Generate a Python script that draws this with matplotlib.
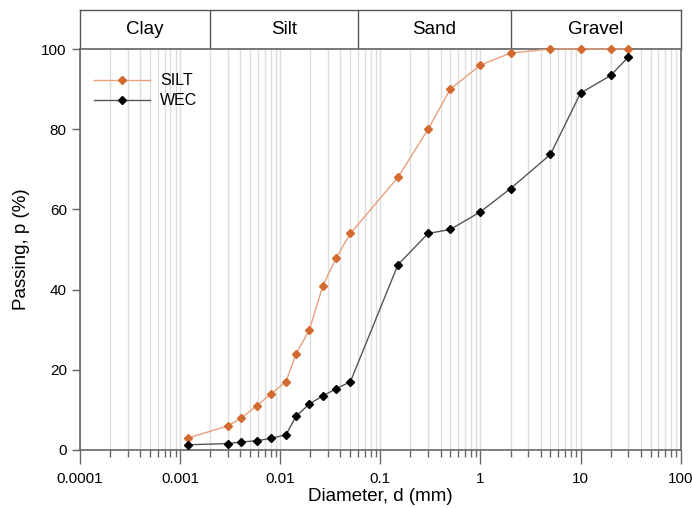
import numpy as np
from matplotlib import pyplot as plt
from matplotlib.ticker import LogLocator, NullFormatter, FixedLocator

plt.rcParams['font.family'] = ['Liberation Sans', 'DejaVu Sans']

diametri = [0.0012, 0.003, 0.0041, 0.0058, 0.0081, 0.0114, 0.0144, 0.0196, 0.0267,
            0.0364, 0.0502, 0.15, 0.3, 0.5, 1, 2, 5, 10, 20, 30]
silt = [3, 6, 8, 11, 14, 17, 24, 30, 41, 48, 54, 68, 80, 90, 96, 99, 100, 100, 100, 100]
wec = [1.3, 1.6, 2.0, 2.3, 2.9, 3.8, 8.4, 11.5, 13.5, 15.3, 17, 46.2, 54, 55, 59.4,
       65.2, 73.7, 89, 93.4, 98]

classi = ["Clay", "Silt", "Sand", "Gravel"]
limiti_classi = [0.0001, 0.002, 0.06, 2, 100]

fig = plt.figure(figsize=(6.92, 5.08), dpi=100)
ax = fig.add_axes([0.1156, 0.1142, 0.868, 0.7893])
ax_h = fig.add_axes([0.1156, 0.9035, 0.868, 0.0768])
ax.set_zorder(2)

colore_silt = "#d2692e"
ax.plot(diametri, silt, color="#e8a07a", lw=1.0, marker="D", ms=4.5,
        mfc=colore_silt, mec=colore_silt, label="SILT", zorder=3, clip_on=False)
ax.plot(diametri, wec, color="#555555", lw=1.0, marker="D", ms=4.5,
        mfc="black", mec="black", label="WEC", zorder=3, clip_on=False)

ax.set_xscale("log")
ax.set_xlim(0.0001, 100)
ax.set_ylim(0, 100)
ax.xaxis.set_minor_locator(LogLocator(base=10, subs=np.arange(2, 10), numticks=20))
ax.xaxis.set_minor_formatter(NullFormatter())
ax.set_xticks([0.0001, 0.001, 0.01, 0.1, 1, 10, 100])
ax.set_xticklabels(["0.0001", "0.001", "0.01", "0.1", "1", "10", "100"])
ax.set_yticks([0, 20, 40, 60, 80, 100])
ax.grid(True, which="both", axis="x", color="#dddddd", lw=1.0, zorder=0)
ax.set_axisbelow(True)

for s in ax.spines.values():
    s.set_color("#666666")
    s.set_linewidth(1.2)
ax.tick_params(axis="x", which="major", direction="out", length=10, width=1.0,
               color="#666666", labelsize=11, pad=6)
ax.tick_params(axis="x", which="minor", direction="out", length=5, width=1.0,
               color="#666666")
ax.tick_params(axis="y", direction="out", length=6, width=1.0, color="#666666",
               labelsize=11)
ax.set_xlabel("Diameter, d (mm)", fontsize=13.5, labelpad=1)
ax.set_ylabel("Passing, p (%)", fontsize=13.5, labelpad=8)

ax.legend(loc="upper left", frameon=False, fontsize=11.5, handlelength=3.5,
          bbox_to_anchor=(0.0, 0.975), labelspacing=0.3, handletextpad=0.6)

# banda delle classi granulometriche
ax_h.set_xscale("log")
ax_h.set_xlim(0.0001, 100)
ax_h.set_ylim(0, 1)
ax_h.set_xticks([])
ax_h.set_yticks([])
ax_h.xaxis.set_minor_locator(FixedLocator([]))
for s in ax_h.spines.values():
    s.set_color("#555555")
    s.set_linewidth(1.0)
for i, nome in enumerate(classi):
    a, b = limiti_classi[i], limiti_classi[i + 1]
    if i > 0:
        ax_h.axvline(a, color="#555555", lw=1.0)
    ax_h.text(np.sqrt(a * b), 0.5, nome, ha="center", va="center", fontsize=13.5)

plt.savefig("out.png", dpi=100)
